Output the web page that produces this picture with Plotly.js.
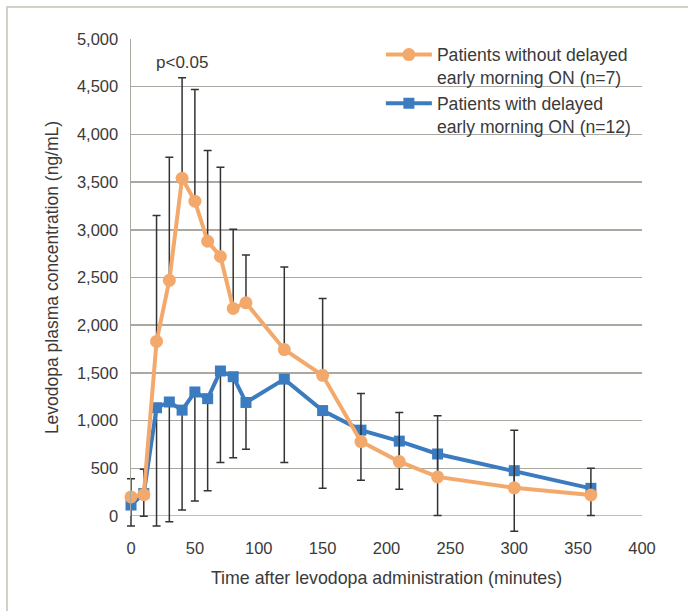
<!DOCTYPE html>
<html>
<head>
<meta charset="utf-8">
<script src="https://cdn.plot.ly/plotly-3.0.1.min.js"></script>
<style>
  html, body { margin: 0; padding: 0; background: #ffffff; }
  #wrap { position: relative; width: 688px; height: 611px; }
  #chart { position: absolute; left: 0; top: 0; width: 688px; height: 611px; }
  #frame { position: absolute; left: 6px; top: 6px; right: 0; bottom: 0;
           border-left: 2px solid #d3d1c6; border-top: 2px solid #d3d1c6; pointer-events: none; }
  /* let the error bars run below the x axis, as in the reference */
  #chart .scatterlayer, #chart .scatterlayer * { clip-path: none !important; }
</style>
</head>
<body>
<div id="wrap">
  <div id="chart"></div>
  <div id="frame"></div>
</div>
<script>
// Time points (minutes after levodopa administration)
const times = [0, 10, 20, 30, 40, 50, 60, 70, 80, 90, 120, 150, 180, 210, 240, 300, 360];

// Patients without delayed early morning ON (n=7): mean and upper error
const withoutMean = [200, 225, 1830, 2470, 3540, 3300, 2880, 2720, 2175, 2235, 1745, 1475, 780, 570, 410, 295, 220];
const withoutErrPlus = [190, 265, 1320, 1290, 1055, 1170, 950, 935, 830, 500, 865, 805, 505, 515, 640, 605, 280];

// Patients with delayed early morning ON (n=12): mean and lower error
const withMean = [115, 235, 1135, 1195, 1110, 1300, 1230, 1520, 1460, 1190, 1435, 1105, 900, 785, 650, 475, 290];
const withErrMinus = [220, 238, 1240, 1255, 1047, 1143, 965, 960, 850, 490, 875, 815, 525, 505, 645, 635, 285];

const zeros = times.map(() => 0);

const seriesNames = [
  "Patients without delayed<br>early morning ON (n=7)",
  "Patients with delayed<br>early morning ON (n=12)"
];
const yTickVals = [0, 500, 1000, 1500, 2000, 2500, 3000, 3500, 4000, 4500, 5000];
const xTickVals = [0, 50, 100, 150, 200, 250, 300, 350, 400];

const orange = "#F4A96C";
const blue = "#3B7BC0";
const textColor = "#3a3a3a";
const gridColor = "#a9a9a1";
const FONT = "'Liberation Sans', Arial, sans-serif";

const traceWith = {
  x: times, y: withMean, type: "scatter", mode: "lines+markers",
  name: seriesNames[1],
  line: { color: blue, width: 4 },
  marker: { symbol: "square", size: 11, color: blue },
  error_y: { type: "data", symmetric: false, array: zeros, arrayminus: withErrMinus,
             color: "#333333", thickness: 1.5, width: 4 },
  cliponaxis: false
};
const traceWithout = {
  x: times, y: withoutMean, type: "scatter", mode: "lines+markers",
  name: seriesNames[0],
  line: { color: orange, width: 4 },
  marker: { symbol: "circle", size: 13, color: orange },
  error_y: { type: "data", symmetric: false, array: withoutErrPlus, arrayminus: zeros,
             color: "#333333", thickness: 1.5, width: 4 },
  cliponaxis: false
};

const layout = {
  width: 688, height: 611,
  margin: { l: 131, r: 46, t: 39, b: 95 },
  paper_bgcolor: "rgba(0,0,0,0)",
  plot_bgcolor: "#ffffff",
  font: { family: FONT, color: textColor, size: 16 },
  showlegend: true,
  legend: {
    x: 0.489, y: 1.005, xanchor: "left", yanchor: "top",
    bgcolor: "rgba(0,0,0,0)", borderwidth: 0,
    font: { family: FONT, size: 17.6, color: textColor },
    traceorder: "reversed", valign: "top", itemwidth: 46
  },
  xaxis: {
    range: [0, 400], tickvals: xTickVals, ticktext: xTickVals.map(String),
    showgrid: false, zeroline: false,
    showline: false,
    ticks: "", ticklabelstandoff: 20,
    tickfont: { family: FONT, size: 16.5, color: textColor },
    title: { text: "Time after levodopa administration (minutes)",
             font: { family: FONT, size: 17.8, color: textColor }, standoff: 16 },
    fixedrange: true
  },
  yaxis: {
    range: [0, 5000], tickvals: yTickVals,
    ticktext: yTickVals.map(v => v.toLocaleString("en-US")),
    showgrid: true, gridcolor: gridColor, gridwidth: 1.5,
    zeroline: false, showline: true, linecolor: gridColor, linewidth: 1.5,
    ticks: "", ticklabelstandoff: 8,
    tickfont: { family: FONT, size: 16.5, color: textColor },
    title: { text: "Levodopa plasma concentration (ng/mL)",
             font: { family: FONT, size: 17.5, color: textColor }, standoff: 14 },
    fixedrange: true
  },
  shapes: [
    { type: "line", xref: "paper", yref: "y", x0: 0, x1: 1, y0: 0, y1: 0,
      line: { color: gridColor, width: 1.5 }, layer: "below" }
  ],
  annotations: [
    { x: 40, y: 4750, xref: "x", yref: "y", text: "p<0.05", showarrow: false,
      font: { family: FONT, size: 17, color: textColor } }
  ]
};

Plotly.newPlot("chart", [traceWith, traceWithout], layout, { staticPlot: true, displayModeBar: false });
</script>
</body>
</html>
